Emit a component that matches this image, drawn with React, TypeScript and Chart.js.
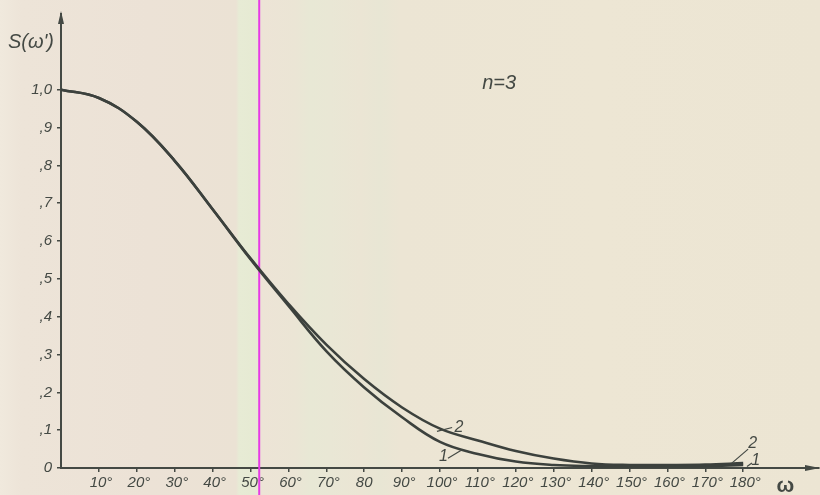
import React, { useEffect, useRef } from "react";
import { Chart, registerables } from "chart.js";

Chart.register(...registerables);

const angles = [0, 10, 20, 30, 40, 50, 60, 70, 80, 90, 100, 110, 120, 130, 140, 150, 160, 170, 180];
const curve1 = [1.0, 0.978, 0.915, 0.812, 0.684, 0.552, 0.429, 0.309, 0.213, 0.134, 0.069, 0.037, 0.017, 0.008, 0.005, 0.004, 0.004, 0.005, 0.008];
const curve2 = [1.0, 0.978, 0.915, 0.812, 0.684, 0.554, 0.434, 0.326, 0.235, 0.16, 0.104, 0.073, 0.045, 0.025, 0.012, 0.008, 0.008, 0.009, 0.013];
const xTickValues = [10, 20, 30, 40, 50, 60, 70, 80, 90, 100, 110, 120, 130, 140, 150, 160, 170, 180];
const xTickLabels = ["10°", "20°", "30°", "40°", "50°", "60°", "70°", "80", "90°", "100°", "110°", "120°", "130°", "140°", "150°", "160°", "170°", "180°"];
const yTickValues = [0, 0.1, 0.2, 0.3, 0.4, 0.5, 0.6, 0.7, 0.8, 0.9, 1.0];
const yTickLabels = ["0", ",1", ",2", ",3", ",4", ",5", ",6", ",7", ",8", ",9", "1,0"];

const INK = "#444944";
const CURVE = "#3c413d";
const FONT = '"Liberation Sans", Arial, sans-serif';

const backgroundPlugin = {
  id: "paper",
  beforeDraw(chart: any) {
    const { ctx, width, height } = chart;
    ctx.save();
    const g = ctx.createLinearGradient(0, 0, width, 0);
    const stops: [number, string][] = [
      [0, "#f0e9dd"],
      [22, "#ede4d8"],
      [150, "#ece2d6"],
      [236, "#ebe2d4"],
      [239, "#e7ebd5"],
      [256, "#e6ead3"],
      [260, "#ede4d6"],
      [295, "#ebe5d5"],
      [310, "#e8e8d5"],
      [330, "#e9e7d5"],
      [360, "#ebe5d4"],
      [380, "#e8e6d4"],
      [400, "#ece5d4"],
      [600, "#ede6d4"],
      [820, "#ece5d3"],
    ];
    stops.forEach(([x, c]) => g.addColorStop(x / width, c));
    ctx.fillStyle = g;
    ctx.fillRect(0, 0, width, height);
    ctx.restore();
  },
  beforeDatasetsDraw(chart: any) {
    const { ctx, height } = chart;
    const xs = chart.scales.x;
    const px = xs.getPixelForValue(52.3);
    ctx.save();
    ctx.strokeStyle = "#e63be6";
    ctx.lineWidth = 2;
    ctx.beginPath();
    ctx.moveTo(px, 0);
    ctx.lineTo(px, height);
    ctx.stroke();
    ctx.restore();
  },
};

const overlayPlugin = {
  id: "overlay",
  afterDraw(chart: any) {
    const { ctx, chartArea } = chart;
    const xs = chart.scales.x;
    const ys = chart.scales.y;
    const X = (v: number) => xs.getPixelForValue(v);
    const Y = (v: number) => ys.getPixelForValue(v);
    ctx.save();
    ctx.fillStyle = INK;
    ctx.strokeStyle = INK;
    // arrows
    const ax = chartArea.left;
    ctx.beginPath();
    ctx.moveTo(ax, chartArea.top - 3);
    ctx.lineTo(ax - 3, chartArea.top + 10);
    ctx.lineTo(ax + 3, chartArea.top + 10);
    ctx.closePath();
    ctx.fill();
    const ay = chartArea.bottom;
    ctx.beginPath();
    ctx.moveTo(chartArea.right + 1, ay);
    ctx.lineTo(chartArea.right - 14, ay - 3);
    ctx.lineTo(chartArea.right - 14, ay + 3);
    ctx.closePath();
    ctx.fill();

    // texts
    ctx.textBaseline = "middle";
    ctx.textAlign = "center";
    ctx.font = `italic 20px ${FONT}`;
    ctx.fillText("S(ω')", chartArea.left - 30, Y(1.124));
    ctx.fillText("n=3", X(115.6), Y(1.016));
    ctx.font = `bold 21px ${FONT}`;
    ctx.fillText("ω", X(191.1), chartArea.bottom + 18);

    // curve labels
    ctx.font = `italic 16px ${FONT}`;
    ctx.lineWidth = 1.2;
    const leader = (x1: number, y1: number, x2: number, y2: number) => {
      ctx.beginPath();
      ctx.moveTo(X(x1), Y(y1));
      ctx.lineTo(X(x2), Y(y2));
      ctx.stroke();
    };
    leader(99.2, 0.097, 103.2, 0.107);
    ctx.fillText("2", X(105), Y(0.106));
    leader(102.1, 0.026, 105.5, 0.046);
    ctx.fillText("1", X(100.9), Y(0.031));
    leader(177, 0.013, 181.3, 0.05);
    ctx.fillText("2", X(182.5), Y(0.064));
    leader(181, 0.004, 182.3, 0.013);
    ctx.fillText("1", X(183.3), Y(0.02));
    ctx.restore();
  },
};

export default function App() {
  const ref = useRef<HTMLCanvasElement | null>(null);

  useEffect(() => {
    if (!ref.current) return;
    const chart = new Chart(ref.current, {
      type: "line",
      data: {
        datasets: [
          {
            label: "1",
            data: angles.map((a, i) => ({ x: a, y: curve1[i] })),
            borderColor: CURVE,
            borderWidth: 2.6,
            pointRadius: 0,
            tension: 0.4,
            fill: false,
          },
          {
            label: "2",
            data: angles.map((a, i) => ({ x: a, y: curve2[i] })),
            borderColor: CURVE,
            borderWidth: 2.6,
            pointRadius: 0,
            tension: 0.4,
            fill: false,
          },
        ],
      },
      options: {
        animation: false,
        responsive: false,
        devicePixelRatio: 1,
        layout: { padding: { top: 10, right: 1, left: 0, bottom: 0 } },
        plugins: { legend: { display: false }, tooltip: { enabled: false }, title: { display: false } },
        scales: {
          x: {
            type: "linear",
            min: 0,
            max: 200,
            afterFit: (s: any) => {
              s.height = 27;
            },
            afterBuildTicks: (s: any) => {
              s.ticks = xTickValues.map((v) => ({ value: v }));
            },
            border: { display: true, color: INK, width: 2 },
            grid: { display: true, drawOnChartArea: false, drawTicks: true, tickLength: 4, tickColor: INK, lineWidth: 1.5 },
            ticks: {
              autoSkip: false,
              maxRotation: 0,
              padding: 2,
              color: INK,
              font: { family: FONT, size: 15, style: "italic" },
              callback: (v: any) => {
                const i = xTickValues.indexOf(Number(v));
                const t = i >= 0 ? xTickLabels[i] : "";
                return t.endsWith("°") ? " " + t : t;
              },
            },
          },
          y: {
            type: "linear",
            min: 0,
            max: 1.2,
            afterFit: (s: any) => {
              s.width = 61;
            },
            afterBuildTicks: (s: any) => {
              s.ticks = yTickValues.map((v) => ({ value: v }));
            },
            border: { display: true, color: INK, width: 2 },
            grid: { display: true, drawOnChartArea: false, drawTicks: true, tickLength: 4, tickColor: INK, lineWidth: 1.5 },
            ticks: {
              autoSkip: false,
              padding: 5,
              color: INK,
              font: { family: FONT, size: 15, style: "italic" },
              callback: (v: any) => {
                const i = yTickValues.findIndex((t) => Math.abs(t - Number(v)) < 1e-6);
                return i >= 0 ? yTickLabels[i] : "";
              },
            },
          },
        },
      },
      plugins: [backgroundPlugin, overlayPlugin],
    } as any);
    return () => chart.destroy();
  }, []);

  return (
    <div style={{ position: "fixed", left: 0, top: 0, width: 820, height: 495 }}>
      <canvas ref={ref} width={820} height={495} style={{ display: "block", width: 820, height: 495 }} />
    </div>
  );
}
